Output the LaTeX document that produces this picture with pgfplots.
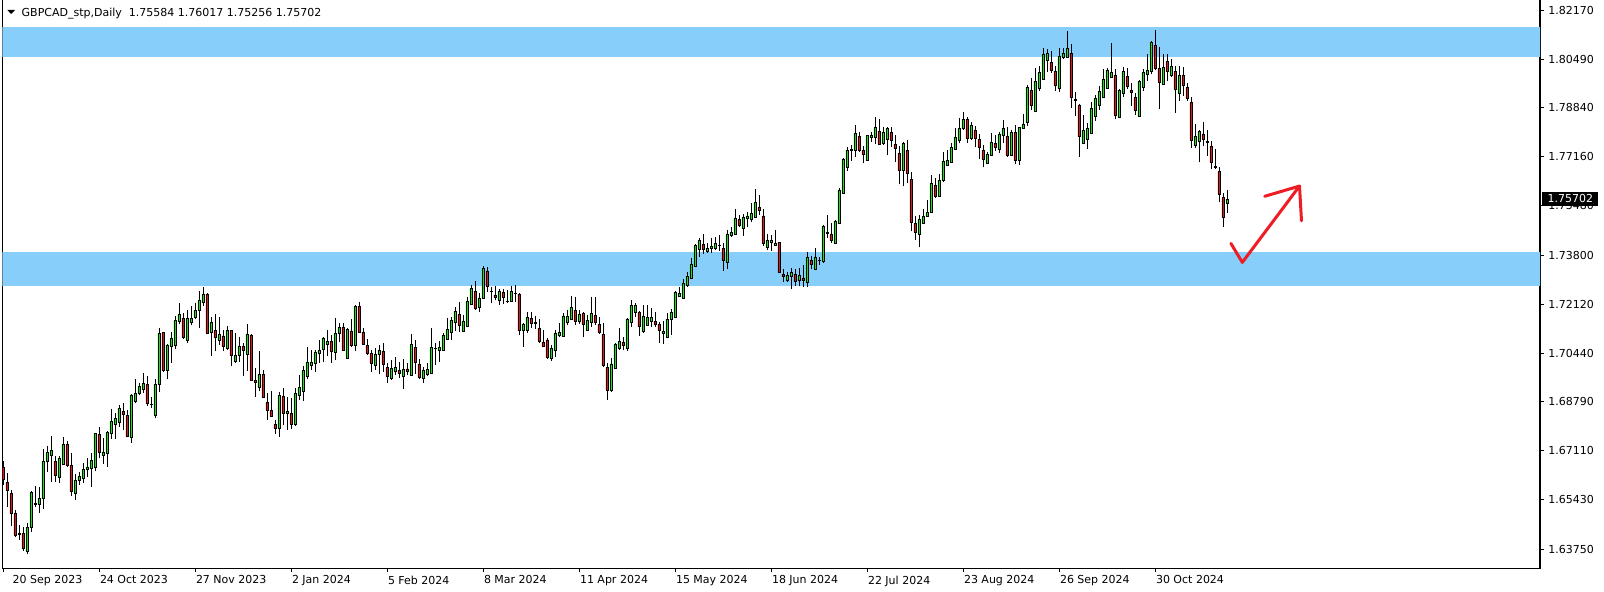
\documentclass[border=0pt]{standalone}
\usepackage{fontspec}
\setmainfont{DejaVu Sans}
\usepackage{pgfplots}
\usepackage{pgfplotstable}
\pgfplotsset{compat=1.18}

\definecolor{band}{RGB}{135,206,250}
\definecolor{bull}{RGB}{20,230,20}
\definecolor{bear}{RGB}{230,20,20}
\definecolor{arrowred}{RGB}{238,28,36}
\newcommand\tickfont{\fontsize{3.13pt}{3.8pt}\selectfont}

% GBPCAD daily: bar index, open, high, low, close
\pgfplotstableread{
i o h l c
0 1.6654 1.6676 1.6594 1.6614
1 1.6604 1.6634 1.6520 1.6575
2 1.6565 1.6577 1.6454 1.6497
3 1.6497 1.6508 1.6415 1.6423
4 1.6429 1.6457 1.6406 1.6424
5 1.6429 1.6449 1.6368 1.6377
6 1.6369 1.6463 1.6357 1.6449
7 1.6449 1.6573 1.6432 1.6570
8 1.6527 1.6590 1.6520 1.6531
9 1.6528 1.6586 1.6500 1.6548
10 1.6548 1.6717 1.6512 1.6676
11 1.6674 1.6727 1.6640 1.6706
12 1.6694 1.6762 1.6605 1.6714
13 1.6676 1.6694 1.6605 1.6626
14 1.6622 1.6694 1.6600 1.6685
15 1.6666 1.6759 1.6662 1.6734
16 1.6734 1.6746 1.6657 1.6662
17 1.6662 1.6705 1.6556 1.6571
18 1.6565 1.6632 1.6543 1.6611
19 1.6609 1.6637 1.6594 1.6625
20 1.6616 1.6671 1.6600 1.6648
21 1.6646 1.6685 1.6622 1.6656
22 1.6650 1.6705 1.6588 1.6678
23 1.6653 1.6773 1.6642 1.6770
24 1.6767 1.6791 1.6685 1.6705
25 1.6694 1.6754 1.6666 1.6707
26 1.6702 1.6780 1.6657 1.6773
27 1.6770 1.6853 1.6752 1.6812
28 1.6801 1.6839 1.6752 1.6822
29 1.6807 1.6866 1.6793 1.6857
30 1.6847 1.6876 1.6782 1.6834
31 1.6833 1.6850 1.6757 1.6759
32 1.6757 1.6904 1.6739 1.6902
33 1.6879 1.6956 1.6873 1.6907
34 1.6907 1.6942 1.6902 1.6933
35 1.6921 1.6976 1.6907 1.6942
36 1.6938 1.6967 1.6864 1.6873
37 1.6871 1.6896 1.6856 1.6870
38 1.6831 1.6956 1.6822 1.6938
39 1.6938 1.7130 1.6913 1.7113
40 1.7115 1.7118 1.6982 1.6985
41 1.6985 1.7076 1.6955 1.7073
42 1.7067 1.7118 1.7012 1.7096
43 1.7070 1.7172 1.7058 1.7158
44 1.7153 1.7218 1.7143 1.7179
45 1.7164 1.7181 1.7093 1.7098
46 1.7090 1.7192 1.7081 1.7164
47 1.7149 1.7206 1.7141 1.7164
48 1.7167 1.7218 1.7161 1.7192
49 1.7192 1.7259 1.7130 1.7227
50 1.7218 1.7270 1.7206 1.7246
51 1.7246 1.7252 1.7110 1.7113
52 1.7116 1.7167 1.7035 1.7150
53 1.7122 1.7179 1.7053 1.7098
54 1.7089 1.7170 1.7073 1.7109
55 1.7104 1.7124 1.7053 1.7067
56 1.7061 1.7138 1.7056 1.7123
57 1.7123 1.7124 1.7002 1.7036
58 1.7016 1.7115 1.7012 1.7037
59 1.7036 1.7101 1.7016 1.7068
60 1.7069 1.7078 1.6967 1.7055
61 1.7042 1.7145 1.6985 1.7110
62 1.7107 1.7109 1.6950 1.6951
63 1.6953 1.6993 1.6896 1.6945
64 1.6928 1.7052 1.6915 1.6972
65 1.6972 1.6987 1.6890 1.6894
66 1.6877 1.6907 1.6816 1.6849
67 1.6849 1.6915 1.6825 1.6828
68 1.6801 1.6816 1.6768 1.6787
69 1.6787 1.6913 1.6759 1.6901
70 1.6897 1.6925 1.6799 1.6839
71 1.6839 1.6894 1.6782 1.6846
72 1.6839 1.6890 1.6784 1.6801
73 1.6801 1.6925 1.6797 1.6907
74 1.6901 1.6970 1.6885 1.6928
75 1.6915 1.7002 1.6882 1.6986
76 1.6964 1.7065 1.6955 1.7015
77 1.7003 1.7056 1.6987 1.7015
78 1.7010 1.7056 1.6982 1.7049
79 1.7043 1.7090 1.7012 1.7055
80 1.7058 1.7101 1.7016 1.7097
81 1.7075 1.7124 1.7035 1.7086
82 1.7086 1.7107 1.7012 1.7051
83 1.7047 1.7164 1.7021 1.7113
84 1.7111 1.7147 1.7084 1.7134
85 1.7134 1.7147 1.7052 1.7053
86 1.7028 1.7130 1.7027 1.7126
87 1.7121 1.7162 1.7067 1.7070
88 1.7070 1.7210 1.7053 1.7206
89 1.7206 1.7219 1.7113 1.7117
90 1.7117 1.7132 1.7073 1.7076
91 1.7072 1.7092 1.7039 1.7044
92 1.7044 1.7056 1.6982 1.7010
93 1.7002 1.7061 1.6987 1.7041
94 1.7041 1.7073 1.6972 1.7055
95 1.7052 1.7078 1.6982 1.7007
96 1.6995 1.7010 1.6942 1.6964
97 1.6959 1.7021 1.6953 1.6993
98 1.6982 1.7031 1.6970 1.6996
99 1.6987 1.7016 1.6959 1.6975
100 1.6964 1.7024 1.6921 1.6990
101 1.6991 1.7010 1.6970 1.6982
102 1.6970 1.7110 1.6967 1.7075
103 1.7065 1.7090 1.6973 1.7012
104 1.7008 1.7025 1.6956 1.6961
105 1.6959 1.6996 1.6942 1.6987
106 1.6972 1.7012 1.6967 1.6989
107 1.6975 1.7130 1.6972 1.7065
108 1.7061 1.7078 1.7004 1.7060
109 1.7053 1.7086 1.7016 1.7065
110 1.7054 1.7113 1.7053 1.7106
111 1.7092 1.7164 1.7090 1.7126
112 1.7115 1.7170 1.7090 1.7158
113 1.7149 1.7204 1.7122 1.7188
114 1.7178 1.7219 1.7118 1.7139
115 1.7119 1.7175 1.7118 1.7155
116 1.7138 1.7238 1.7135 1.7222
117 1.7212 1.7278 1.7209 1.7266
118 1.7255 1.7292 1.7192 1.7198
119 1.7201 1.7249 1.7187 1.7232
120 1.7232 1.7344 1.7230 1.7335
121 1.7326 1.7338 1.7255 1.7272
122 1.7256 1.7272 1.7215 1.7255
123 1.7244 1.7274 1.7227 1.7236
124 1.7224 1.7264 1.7209 1.7257
125 1.7253 1.7264 1.7213 1.7236
126 1.7223 1.7261 1.7215 1.7221
127 1.7221 1.7274 1.7219 1.7257
128 1.7249 1.7278 1.7221 1.7248
129 1.7247 1.7252 1.7107 1.7122
130 1.7122 1.7149 1.7067 1.7144
131 1.7122 1.7187 1.7115 1.7168
132 1.7165 1.7187 1.7130 1.7148
133 1.7151 1.7172 1.7126 1.7146
134 1.7130 1.7160 1.7081 1.7086
135 1.7082 1.7124 1.7065 1.7069
136 1.7090 1.7095 1.7024 1.7029
137 1.7026 1.7073 1.7019 1.7061
138 1.7053 1.7124 1.7033 1.7113
139 1.7105 1.7147 1.7099 1.7117
140 1.7101 1.7181 1.7099 1.7172
141 1.7149 1.7192 1.7141 1.7172
142 1.7160 1.7240 1.7158 1.7201
143 1.7191 1.7236 1.7141 1.7155
144 1.7154 1.7192 1.7144 1.7178
145 1.7181 1.7187 1.7099 1.7143
146 1.7124 1.7175 1.7121 1.7157
147 1.7149 1.7238 1.7135 1.7181
148 1.7174 1.7238 1.7141 1.7149
149 1.7144 1.7170 1.7110 1.7115
150 1.7110 1.7147 1.6996 1.7002
151 1.6996 1.7010 1.6885 1.6919
152 1.6919 1.7027 1.6913 1.7008
153 1.6993 1.7081 1.6990 1.7076
154 1.7061 1.7130 1.7056 1.7086
155 1.7082 1.7101 1.7055 1.7070
156 1.7061 1.7164 1.7053 1.7160
157 1.7149 1.7226 1.7135 1.7209
158 1.7185 1.7215 1.7169 1.7208
159 1.7185 1.7190 1.7103 1.7135
160 1.7118 1.7209 1.7115 1.7172
161 1.7141 1.7209 1.7138 1.7166
162 1.7153 1.7198 1.7135 1.7168
163 1.7153 1.7187 1.7135 1.7142
164 1.7143 1.7152 1.7081 1.7123
165 1.7112 1.7156 1.7075 1.7120
166 1.7098 1.7181 1.7095 1.7161
167 1.7161 1.7195 1.7107 1.7184
168 1.7167 1.7258 1.7165 1.7253
169 1.7238 1.7272 1.7236 1.7249
170 1.7232 1.7300 1.7230 1.7283
171 1.7275 1.7323 1.7272 1.7307
172 1.7300 1.7369 1.7298 1.7348
173 1.7343 1.7418 1.7338 1.7413
174 1.7400 1.7437 1.7375 1.7430
175 1.7417 1.7452 1.7384 1.7400
176 1.7392 1.7420 1.7388 1.7403
177 1.7402 1.7437 1.7388 1.7411
178 1.7403 1.7441 1.7397 1.7420
179 1.7413 1.7449 1.7395 1.7412
180 1.7403 1.7420 1.7327 1.7362
181 1.7354 1.7466 1.7334 1.7451
182 1.7446 1.7475 1.7443 1.7458
183 1.7451 1.7537 1.7449 1.7506
184 1.7502 1.7517 1.7477 1.7481
185 1.7471 1.7520 1.7446 1.7509
186 1.7505 1.7528 1.7477 1.7514
187 1.7502 1.7557 1.7494 1.7523
188 1.7509 1.7605 1.7506 1.7560
189 1.7543 1.7585 1.7517 1.7532
190 1.7514 1.7537 1.7412 1.7420
191 1.7405 1.7451 1.7397 1.7430
192 1.7422 1.7449 1.7394 1.7432
193 1.7413 1.7466 1.7411 1.7421
194 1.7424 1.7426 1.7318 1.7320
195 1.7314 1.7331 1.7289 1.7306
196 1.7293 1.7323 1.7289 1.7311
197 1.7306 1.7335 1.7263 1.7321
198 1.7314 1.7331 1.7274 1.7289
199 1.7293 1.7335 1.7274 1.7311
200 1.7302 1.7346 1.7272 1.7293
201 1.7287 1.7391 1.7272 1.7372
202 1.7362 1.7377 1.7331 1.7348
203 1.7331 1.7403 1.7329 1.7372
204 1.7363 1.7375 1.7346 1.7362
205 1.7358 1.7483 1.7354 1.7477
206 1.7456 1.7517 1.7437 1.7459
207 1.7451 1.7491 1.7422 1.7429
208 1.7420 1.7500 1.7418 1.7496
209 1.7488 1.7611 1.7486 1.7602
210 1.7591 1.7711 1.7589 1.7707
211 1.7680 1.7748 1.7668 1.7739
212 1.7738 1.7756 1.7703 1.7740
213 1.7737 1.7825 1.7716 1.7796
214 1.7787 1.7802 1.7733 1.7737
215 1.7737 1.7753 1.7694 1.7724
216 1.7704 1.7790 1.7703 1.7789
217 1.7782 1.7800 1.7768 1.7790
218 1.7782 1.7851 1.7759 1.7817
219 1.7804 1.7845 1.7756 1.7759
220 1.7761 1.7817 1.7756 1.7800
221 1.7776 1.7819 1.7722 1.7813
222 1.7800 1.7817 1.7751 1.7771
223 1.7759 1.7790 1.7699 1.7745
224 1.7728 1.7754 1.7623 1.7668
225 1.7668 1.7768 1.7616 1.7762
226 1.7738 1.7773 1.7627 1.7658
227 1.7639 1.7663 1.7462 1.7491
228 1.7488 1.7513 1.7431 1.7458
229 1.7451 1.7517 1.7406 1.7502
230 1.7488 1.7537 1.7485 1.7511
231 1.7513 1.7568 1.7511 1.7526
232 1.7525 1.7654 1.7523 1.7625
233 1.7619 1.7642 1.7576 1.7580
234 1.7580 1.7657 1.7577 1.7635
235 1.7634 1.7733 1.7631 1.7701
236 1.7687 1.7739 1.7686 1.7705
237 1.7697 1.7762 1.7696 1.7749
238 1.7741 1.7813 1.7739 1.7784
239 1.7771 1.7847 1.7762 1.7813
240 1.7812 1.7870 1.7808 1.7845
241 1.7845 1.7851 1.7764 1.7779
242 1.7779 1.7834 1.7773 1.7823
243 1.7808 1.7822 1.7748 1.7779
244 1.7776 1.7794 1.7707 1.7748
245 1.7739 1.7756 1.7680 1.7707
246 1.7694 1.7733 1.7691 1.7725
247 1.7721 1.7796 1.7719 1.7765
248 1.7762 1.7790 1.7737 1.7750
249 1.7741 1.7802 1.7728 1.7793
250 1.7789 1.7842 1.7762 1.7813
251 1.7787 1.7819 1.7716 1.7720
252 1.7722 1.7808 1.7719 1.7800
253 1.7800 1.7825 1.7691 1.7703
254 1.7704 1.7819 1.7688 1.7817
255 1.7813 1.7862 1.7811 1.7827
256 1.7833 1.7961 1.7822 1.7953
257 1.7943 1.7984 1.7876 1.7892
258 1.7873 1.8021 1.7870 1.7973
259 1.7950 1.8026 1.7942 1.8005
260 1.7982 1.8087 1.7979 1.8066
261 1.8046 1.8085 1.8007 1.8070
262 1.8039 1.8078 1.8004 1.8010
263 1.8009 1.8028 1.7942 1.7959
264 1.7950 1.8087 1.7939 1.8059
265 1.8055 1.8087 1.8050 1.8070
266 1.8055 1.8146 1.8053 1.8087
267 1.8070 1.8100 1.7884 1.7919
268 1.7912 1.7939 1.7857 1.7908
269 1.7892 1.7895 1.7716 1.7785
270 1.7761 1.7859 1.7759 1.7806
271 1.7776 1.7830 1.7743 1.7813
272 1.7796 1.7902 1.7794 1.7882
273 1.7853 1.7927 1.7839 1.7917
274 1.7891 1.7958 1.7876 1.7940
275 1.7919 1.8015 1.7916 1.7982
276 1.7950 1.8021 1.7948 1.8012
277 1.7988 1.8104 1.7987 1.8005
278 1.7996 1.8015 1.7845 1.7858
279 1.7851 1.7948 1.7848 1.7943
280 1.7933 1.8022 1.7919 1.8007
281 1.7990 1.8021 1.7948 1.7956
282 1.7943 1.7967 1.7890 1.7935
283 1.7919 1.7933 1.7859 1.7874
284 1.7855 1.7979 1.7853 1.7974
285 1.7953 1.8015 1.7942 1.8005
286 1.7998 1.8066 1.7975 1.8013
287 1.8009 1.8113 1.7998 1.8107
288 1.8097 1.8150 1.8013 1.8018
289 1.8018 1.8090 1.7878 1.7971
290 1.7965 1.8066 1.7961 1.8022
291 1.8041 1.8066 1.7975 1.8007
292 1.7993 1.8050 1.7990 1.8025
293 1.8007 1.8028 1.7867 1.7947
294 1.7933 1.8025 1.7907 1.7995
295 1.7995 1.8024 1.7925 1.7959
296 1.7953 1.7967 1.7908 1.7916
297 1.7902 1.7922 1.7745 1.7771
298 1.7754 1.7828 1.7747 1.7787
299 1.7768 1.7808 1.7697 1.7802
300 1.7794 1.7834 1.7754 1.7776
301 1.7769 1.7808 1.7720 1.7767
302 1.7753 1.7770 1.7676 1.7697
303 1.7683 1.7743 1.7674 1.7681
304 1.7667 1.7682 1.7560 1.7588
305 1.7577 1.7591 1.7477 1.7509
306 1.75584 1.76017 1.75256 1.75702
}\candles

\begin{document}
\begin{tikzpicture}
\pgfplotsset{chartframe/.style={
    at={(0.23mm,2.37mm)}, anchor=south west,
    scale only axis, width=153.77mm, height=56.93mm,
    xmin=-0.25, xmax=384.175, ymin=1.63095, ymax=1.82554}}

% frame, zones, wicks, arrow
\begin{axis}[
    chartframe,
    axis line style={line width=0.12mm},
    tick style={black, line width=0.1mm},
    tick align=outside,
    major tick length=0.4mm,
    xtick pos=bottom, ytick pos=right, yticklabel pos=right,
    xtick={0,24,...,288},
    xticklabels={\kern0.87mm 20 Sep 2023, 24 Oct 2023, 27 Nov 2023, 2 Jan 2024,
        5 Feb 2024, 8 Mar 2024, 11 Apr 2024, 15 May 2024, 18 Jun 2024,
        22 Jul 2024, 23 Aug 2024, 26 Sep 2024, 30 Oct 2024},
    ytick={1.6375,1.6543,1.6711,1.6879,1.7044,1.7212,1.7380,1.7548,1.7716,1.7884,1.8049,1.8217},
    yticklabels={1.63750,1.65430,1.67110,1.68790,1.70440,1.72120,1.73800,1.75480,1.77160,1.78840,1.80490,1.82170},
    ticklabel style={font=\tickfont},
    xticklabel style={anchor=north west, inner sep=0pt},
    yticklabel style={anchor=west, inner sep=0pt},
    xticklabel shift=0.27mm,
    yticklabel shift=0.37mm,
]
\addplot[fill=band, draw=none, forget plot]
    coordinates {(-5,1.8057) (400,1.8057) (400,1.8160) (-5,1.8160)};
\addplot[fill=band, draw=none, forget plot]
    coordinates {(-5,1.7276) (400,1.7276) (400,1.7390) (-5,1.7390)};

%-- wicks, low to high
\addplot[draw=none, mark=none,
    error bars/.cd, y dir=plus, y explicit, error mark=none,
    error bar style={draw=black, line width=0.1mm}]
    table[x=i, y=l, y error expr=\thisrow{h}-\thisrow{l}] {\candles};

%-- hand drawn arrow
\addplot[arrowred, line width=0.3mm, line join=round, line cap=round]
    coordinates {(306.9,1.7420) (309.75,1.7355) (324.05,1.7616)};
\addplot[arrowred, line width=0.3mm, line join=round, line cap=round]
    coordinates {(315.35,1.7581) (324.05,1.7616) (324.55,1.7497)};
\end{axis}

% candle bodies
\begin{axis}[
    chartframe, hide axis,
    ybar stacked, bar width=0.72,
]
\addplot[draw=none, fill=none]
    table[x=i, y expr={min(\thisrow{o},\thisrow{c})}] {\candles};
\addplot[fill=bull, draw=black, line width=0.07mm]
    table[x=i, y expr={max(\thisrow{c}-\thisrow{o},0)}] {\candles};
\addplot[fill=bear, draw=black, line width=0.07mm]
    table[x=i, y expr={max(\thisrow{o}-\thisrow{c},0)}] {\candles};
\end{axis}

% header and current price box
\fill (0.73mm,58.2mm) -- (1.5mm,58.2mm) -- (1.115mm,57.8mm) -- cycle;
\node[anchor=base west, inner sep=0pt, font=\tickfont] at (2.1mm,57.53mm)
    {GBPCAD\_stp,Daily\ \ 1.75584 1.76017 1.75256 1.75702};
\fill[black] (154.17mm,38.63mm) rectangle (159.8mm,39.97mm);
\node[anchor=base west, inner sep=0pt, font=\tickfont, text=white] at (154.7mm,38.9mm) {1.75702};

\pgfresetboundingbox
\path[use as bounding box] (0,0) rectangle (160.4mm,59.2mm);
\end{tikzpicture}
\end{document}
